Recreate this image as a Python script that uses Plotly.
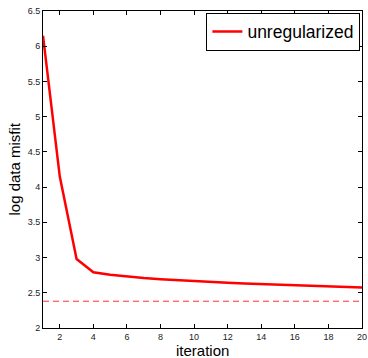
import plotly.graph_objects as go

iterations = list(range(1, 21))
misfit = [6.15, 4.15, 2.98, 2.79, 2.755, 2.73, 2.71, 2.693, 2.678, 2.665,
          2.653, 2.643, 2.633, 2.624, 2.615, 2.607, 2.599, 2.591, 2.583, 2.575]
target = 2.38
x_ticks = [2, 4, 6, 8, 10, 12, 14, 16, 18, 20]
y_ticks = [2, 2.5, 3, 3.5, 4, 4.5, 5, 5.5, 6, 6.5]

FONT = "Liberation Sans, Arial"

fig = go.Figure()
fig.add_trace(go.Scatter(x=iterations, y=misfit, mode="lines", name="unregularized",
                         line=dict(color="#ff0000", width=2.5)))
fig.add_trace(go.Scatter(x=[1, 20], y=[target, target], mode="lines", showlegend=False,
                         line=dict(color="#ff3030", width=1, dash="6px,4px")))

axis_common = dict(showgrid=False, zeroline=False, showline=True, linecolor="black",
                   linewidth=1, mirror="ticks", ticks="inside", ticklen=4, tickcolor="black",
                   automargin=False,
                   tickfont=dict(family=FONT, size=9, color="#222"))
fig.update_xaxes(range=[1, 20], tickvals=x_ticks, **axis_common)
fig.update_yaxes(range=[2, 6.5], tickvals=y_ticks, ticktext=[("%g" % v) for v in y_ticks], **axis_common)

fig.add_annotation(text="iteration", xref="paper", yref="paper", x=0.5, y=0,
                   xanchor="center", yanchor="top", yshift=-13, borderpad=0, showarrow=False,
                   font=dict(family=FONT, size=15, color="black"))
fig.add_annotation(text="log data misfit", xref="paper", yref="paper", x=0, y=0.5,
                   xanchor="center", yanchor="middle", xshift=-29, textangle=-90, showarrow=False,
                   font=dict(family=FONT, size=15, color="black"))

fig.update_layout(
    width=368, height=358,
    margin=dict(l=43, r=6, t=11, b=30),
    paper_bgcolor="white", plot_bgcolor="white",
    legend=dict(x=0.995, y=0.995, xanchor="right", yanchor="top",
                bordercolor="black", borderwidth=1, bgcolor="white",
                font=dict(family=FONT, size=17.5, color="black"),
                itemwidth=30, tracegroupgap=0),
)
fig.write_html("out.html")
